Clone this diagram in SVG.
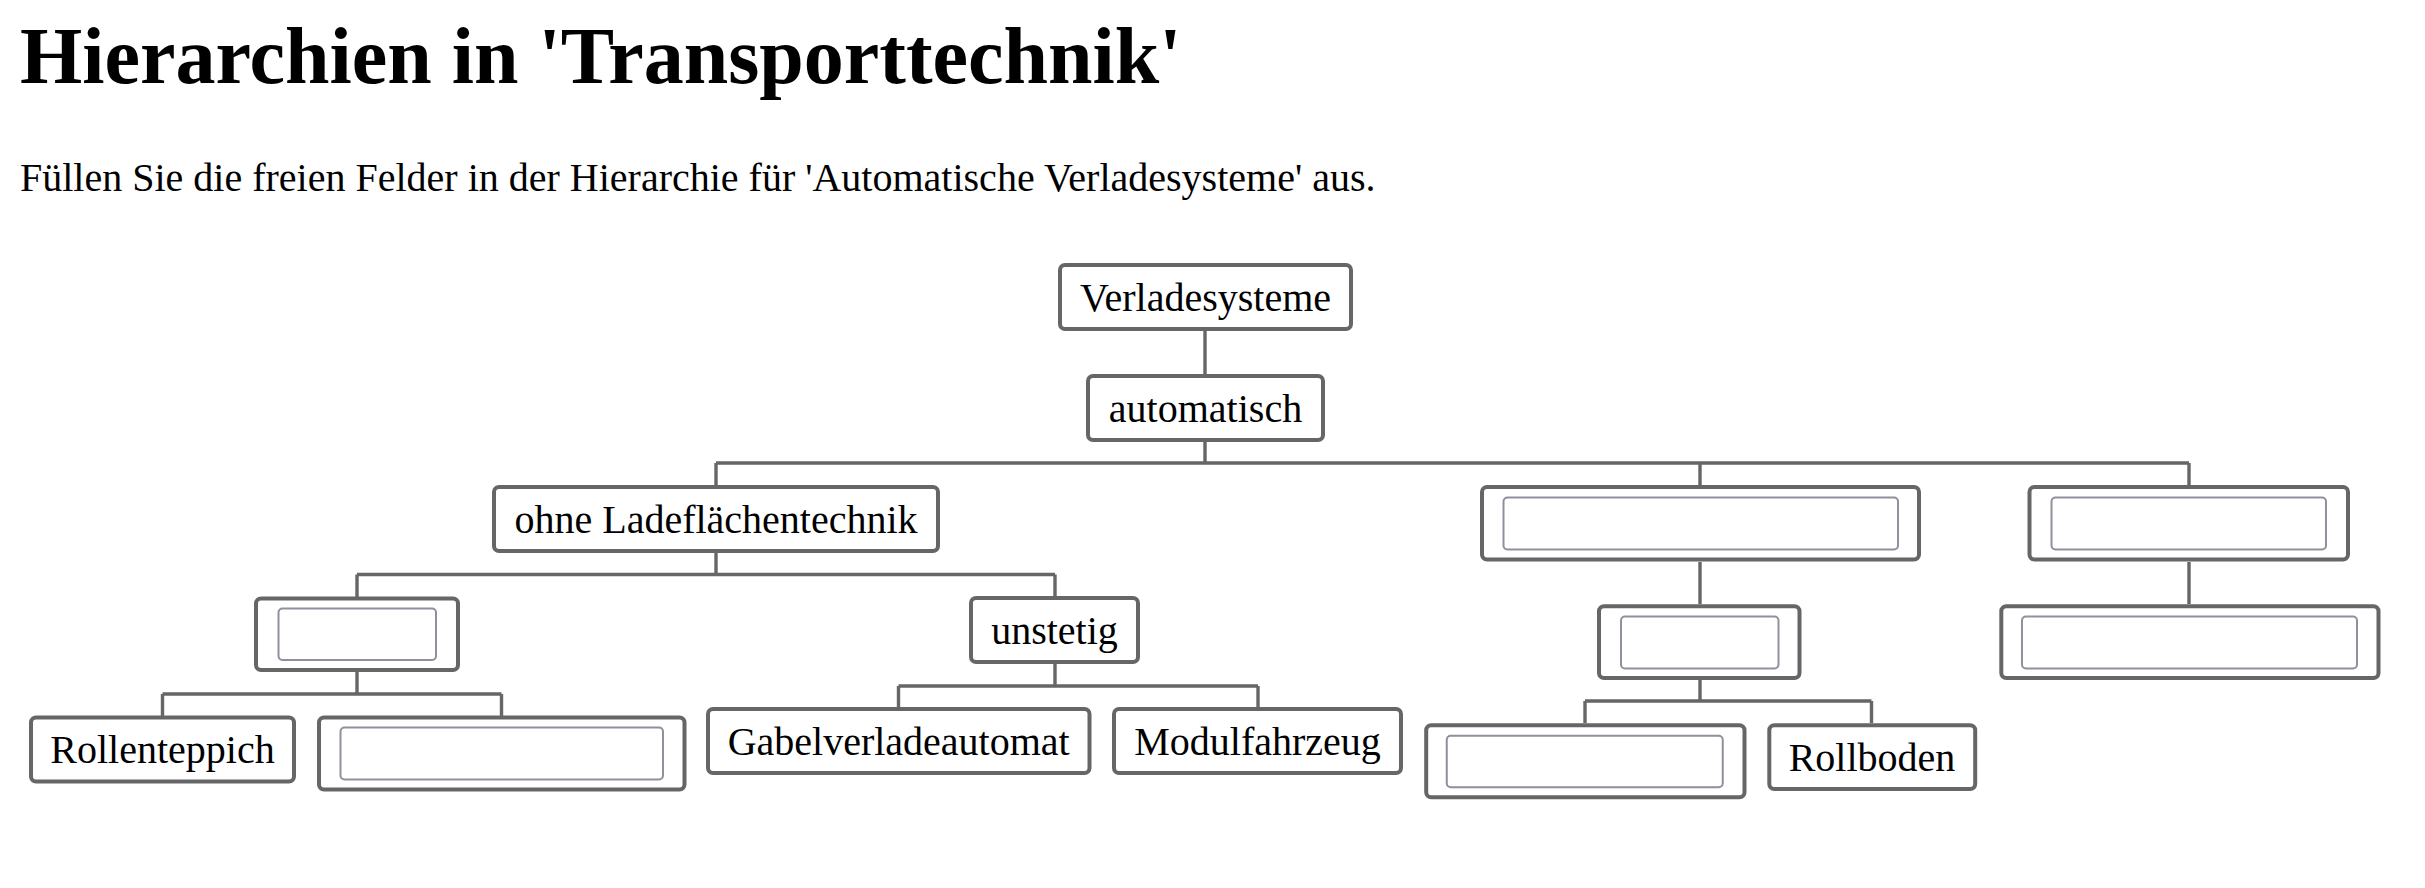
<svg xmlns="http://www.w3.org/2000/svg" width="2425" height="888" viewBox="0 0 2425 888">
<style>
.t{font-family:"Liberation Serif","Times New Roman",serif;fill:#000}
.h{font-size:80px;font-weight:bold}
.p{font-size:40px}
.n{font-size:40px;text-anchor:middle}
.b{fill:#fff;stroke:#666;stroke-width:4}
.i{fill:#fff;stroke:#8f8f9d;stroke-width:2}
.c{fill:none;stroke:#666;stroke-width:3.4}
</style>
<rect width="2425" height="888" fill="#fff"/>
<text class="t h" x="20" y="83">Hierarchien in 'Transporttechnik'</text>
<text class="t p" x="20" y="191">Füllen Sie die freien Felder in der Hierarchie für 'Automatische Verladesysteme' aus.</text>
<g id="connectors">
<path class="c" d="M1205 331V374M1205 442V463M716 463H2189M716 463V485M1700 463V485M2189 463V485"/>
<path class="c" d="M716 553V574.5M357 574.5H1055M357 574.5V597M1055 574.5V596"/>
<path class="c" d="M357 672V694M162.5 694H501.5M162.5 694V716M501.5 694V716"/>
<path class="c" d="M1055 664V686M898.5 686H1258M898.5 686V707M1258 686V707"/>
<path class="c" d="M1700 562V604M2189 562V604"/>
<path class="c" d="M1700 680V701M1585 701H1871.5M1585 701V723M1871.5 701V723"/>
</g>
<g id="n-verladesysteme"><rect class="b" x="1060" y="265" width="291" height="64" rx="5"/><text class="t n" x="1205.5" y="311">Verladesysteme</text></g>
<g id="n-automatisch"><rect class="b" x="1088" y="376" width="235" height="64" rx="5"/><text class="t n" x="1205.5" y="422">automatisch</text></g>
<g id="n-ohne"><rect class="b" x="494" y="487" width="444" height="64" rx="5"/><text class="t n" x="716" y="533">ohne Ladeflächentechnik</text></g>
<g id="n-e1"><rect class="b" x="256" y="598.5" width="202" height="71.5" rx="5"/><rect class="i" x="278.5" y="608.5" width="157.5" height="51.5" rx="4"/></g>
<g id="n-unstetig"><rect class="b" x="971" y="598" width="167" height="64" rx="5"/><text class="t n" x="1054.5" y="644">unstetig</text></g>
<g id="n-e3"><rect class="b" x="1482" y="487" width="437" height="72.5" rx="5"/><rect class="i" x="1503.5" y="497.5" width="394.5" height="52" rx="4"/></g>
<g id="n-e4"><rect class="b" x="2029.5" y="487" width="318.5" height="72.5" rx="5"/><rect class="i" x="2051.5" y="497.5" width="274.5" height="52" rx="4"/></g>
<g id="n-rollenteppich"><rect class="b" x="31" y="717.5" width="263" height="64" rx="5"/><text class="t n" x="162.5" y="763">Rollenteppich</text></g>
<g id="n-e2"><rect class="b" x="319" y="717.5" width="365.5" height="72" rx="5"/><rect class="i" x="340.5" y="727.5" width="322.5" height="52" rx="4"/></g>
<g id="n-gabel"><rect class="b" x="708" y="709" width="381.5" height="64" rx="5"/><text class="t n" x="898.7" y="755">Gabelverladeautomat</text></g>
<g id="n-modul"><rect class="b" x="1114" y="709" width="287" height="64" rx="5"/><text class="t n" x="1257.5" y="755">Modulfahrzeug</text></g>
<g id="n-e5"><rect class="b" x="1599" y="606.3" width="200.5" height="71.7" rx="5"/><rect class="i" x="1621" y="616.5" width="157.5" height="52" rx="4"/></g>
<g id="n-e6"><rect class="b" x="2001.3" y="606.3" width="377.2" height="71.7" rx="5"/><rect class="i" x="2022" y="616.5" width="335" height="52" rx="4"/></g>
<g id="n-e7"><rect class="b" x="1426.2" y="725.3" width="318.3" height="72" rx="5"/><rect class="i" x="1446.75" y="735.75" width="276" height="51.5" rx="4"/></g>
<g id="n-rollboden"><rect class="b" x="1769.3" y="725.3" width="205.9" height="63.7" rx="5"/><text class="t n" x="1872" y="771">Rollboden</text></g>
</svg>
